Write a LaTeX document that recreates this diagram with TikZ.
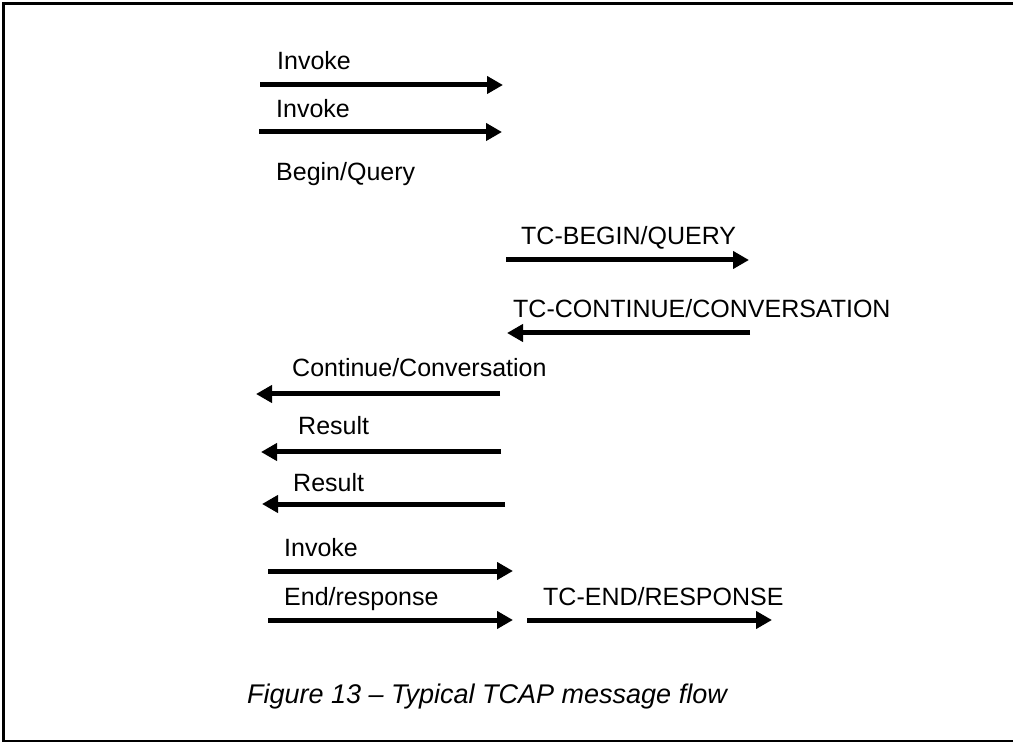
\documentclass[tikz,border=0pt]{standalone}
\usepackage{fontspec}
\setmainfont{Liberation Sans}
\usetikzlibrary{arrows.meta}
\begin{document}
\begin{tikzpicture}[x=1pt,y=-1pt,
  msg/.style={line width=5pt,-{Triangle[length=16pt,width=17pt]}},
  lbl/.style={anchor=base west,inner sep=0pt,font=\fontsize{25}{29}\selectfont},
  figcaption/.style={anchor=base,inner sep=0pt,font=\fontsize{27}{31}\selectfont\itshape}]
\useasboundingbox (0,0) rectangle (1013,743);
% frame (right side lies beyond the page edge)
\draw[line width=2.5pt] (1020,3.5) -- (3.5,3.5) -- (3.5,741) -- (1020,741);

% end points of the message arrows
\coordinate (a1s) at (260,85);  \coordinate (a1e) at (503,85);
\coordinate (a2s) at (259,132); \coordinate (a2e) at (502,132);
\coordinate (a3s) at (506,260); \coordinate (a3e) at (749,260);
\coordinate (a4s) at (750,333); \coordinate (a4e) at (507,333);
\coordinate (a5s) at (500,394); \coordinate (a5e) at (256,394);
\coordinate (a6s) at (501,452); \coordinate (a6e) at (261,452);
\coordinate (a7s) at (505,504); \coordinate (a7e) at (262,504);
\coordinate (a8s) at (268,571); \coordinate (a8e) at (513,571);
\coordinate (a9s) at (268,620); \coordinate (a9e) at (513,620);
\coordinate (a10s) at (527,620); \coordinate (a10e) at (772,620);

\draw[msg] (a1s) -- (a1e);
\draw[msg] (a2s) -- (a2e);
\draw[msg] (a3s) -- (a3e);
\draw[msg] (a4s) -- (a4e);
\draw[msg] (a5s) -- (a5e);
\draw[msg] (a6s) -- (a6e);
\draw[msg] (a7s) -- (a7e);
\draw[msg] (a8s) -- (a8e);
\draw[msg] (a9s) -- (a9e);
\draw[msg] (a10s) -- (a10e);

% message labels
\node[lbl] (l1) at (277,70) {Invoke};
\node[lbl] (l2) at (276,118) {Invoke};
\node[lbl] (l3) at (276,181) {Begin/Query};
\node[lbl] (l4) at (521,245) {TC-BEGIN/QUERY};
\node[lbl] (l5) at (513,318) {TC-CONTINUE/CONVERSATION};
\node[lbl] (l6) at (292,377) {Continue/Conversation};
\node[lbl] (l7) at (298,435) {Result};
\node[lbl] (l8) at (293,491) {Result};
\node[lbl] (l9) at (284,556) {Invoke};
\node[lbl] (l10) at (284,605) {End/response};
\node[lbl] (l11) at (543,605) {TC-END/RESPONSE};

% caption
\node[figcaption] (caption) at (487,703) {Figure 13 – Typical TCAP message flow};
\end{tikzpicture}
\end{document}
